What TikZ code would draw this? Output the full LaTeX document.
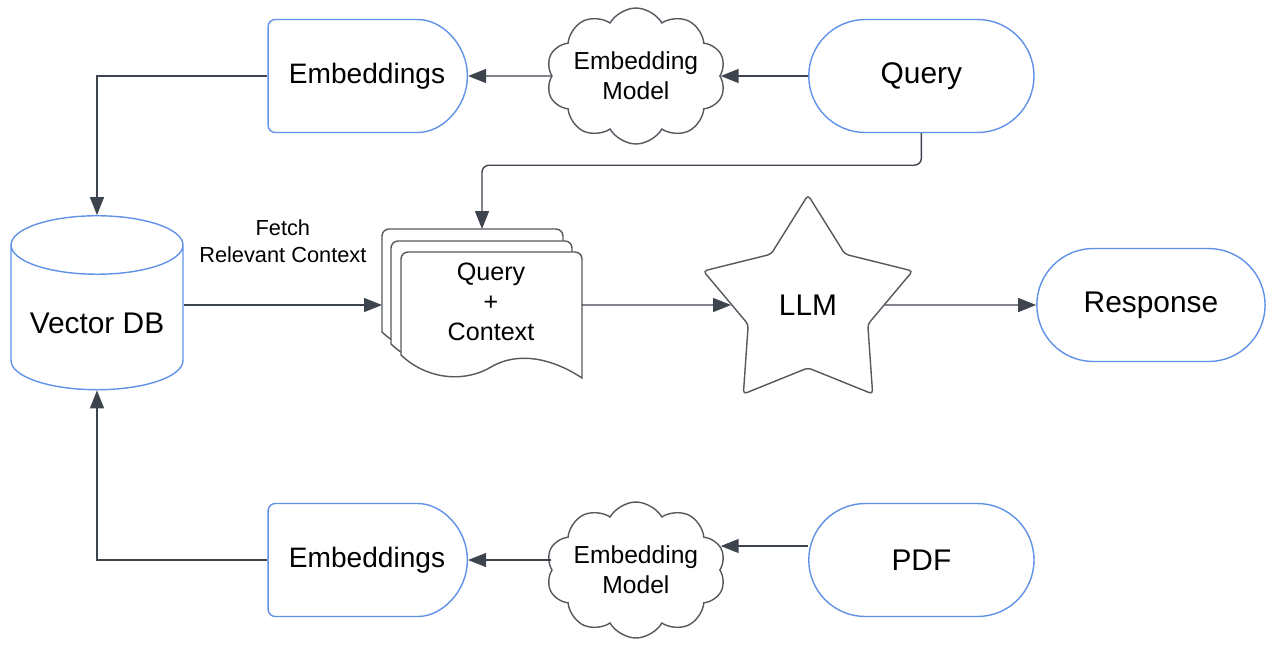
\documentclass[tikz,border=0pt]{standalone}
\usepackage{fontspec}
\setmainfont{Liberation Sans}
\usepackage{tikz}
\usetikzlibrary{shapes.geometric,shapes.misc,shapes.symbols,arrows.meta,positioning}
\definecolor{boxblue}{RGB}{96,146,232}
\definecolor{edgegray}{RGB}{85,88,94}
\definecolor{arrowgray}{RGB}{62,68,78}

\begin{document}
\begin{tikzpicture}[x=0.02cm, y=-0.02cm,
        pill/.style={draw=boxblue, line width=0.8pt, rounded rectangle, minimum width=4.74cm, minimum height=2.26cm, font=\fontsize{17}{20}\selectfont},
        delaybox/.style={draw=boxblue, line width=0.8pt, rounded rectangle, rounded rectangle left arc=none, rounded corners=4pt, minimum width=4.22cm, minimum height=2.26cm, font=\fontsize{16}{19}\selectfont},
        puff/.style={draw=edgegray, line width=0.8pt, cloud, cloud puffs=10, cloud puff arc=120, cloud ignores aspect, inner sep=0pt, minimum width=2.95cm, minimum height=2.72cm, align=center, font=\fontsize{14}{17}\selectfont},
        page/.style={draw=edgegray, line width=0.8pt, fill=white},
        arr/.style={draw=arrowgray, line width=0.8pt, -{Triangle[length=0.36cm,width=0.28cm]}}]
        \useasboundingbox (0,0) rectangle (1270,654);

        % top row
        \node (emb1) [delaybox] at (367,76) {Embeddings};
        \node (cld1) [puff, right of=emb1, node distance=5.38cm] {Embedding\\Model};
        \node (qry) [pill, right of=cld1, node distance=5.71cm] {Query};

        % bottom row
        \node (emb2) [delaybox] at (367,560) {Embeddings};
        \node (cld2) [puff, right of=emb2, node distance=5.38cm, yshift=-0.2cm] {Embedding\\Model};
        \node (pdf) [pill, right of=emb2, node distance=11.09cm] {PDF};

        % middle row
        \node (vdb) [cylinder, shape border rotate=90, aspect=0.4, draw=boxblue, line width=0.8pt, minimum width=3.44cm, minimum height=3.48cm, font=\fontsize{17}{20}\selectfont] at (97,323) {Vector DB};
        \foreach \dx/\dy in {-19/-23, -10/-11, 0/0}
            \draw[page, shift={(\dx,\dy)}] (401,355) [rounded corners=4pt] -- (401,252) -- (582,252) [sharp corners] -- (582,378)
                .. controls (555,360) and (520,350) .. (491,367) .. controls (462,384) and (425,378) .. (401,355) -- cycle;
        \node (ctx) [align=center, minimum width=3.62cm, font=\fontsize{14.3}{17}\selectfont] at (491,302) {Query\\+\\Context};
        \coordinate (stk) at (382,305);
        \coordinate (stktop) at (482,229);
        \node (llm) [star, star points=5, star point ratio=1.75, minimum size=4.4cm, inner sep=0pt, draw=edgegray, line width=0.8pt, rounded corners=2pt, font=\fontsize{17}{20}\selectfont] at (808,305) {LLM};
        \node (rsp) [pill, minimum width=4.8cm, right of=llm, node distance=6.86cm] {Response};

        % connectors
        \draw[arr] (qry.west) -- (cld1.east |- qry.west);
        \draw[arr] (cld1.west) -- (emb1.east);
        \draw[arr] (emb1.west) -| (vdb.north);
        \draw[arr, rounded corners=4pt] (qry.south) -- ++(0,32) -| (stktop);
        \draw[arr] (vdb.east |- stk) -- node[above=0.72cm, align=center, font=\fontsize{12.4}{15.3}\selectfont] {Fetch\\Relevant Context} (stk);
        \draw[arr] (ctx.east |- llm) -- (llm);
        \draw[arr] (llm) -- (rsp);
        \coordinate (pdfin) at ([yshift=0.28cm]pdf.west);
        \draw[arr] (pdfin) -- (pdfin -| cld2.east);
        \draw[arr] (cld2.west |- emb2) -- (emb2.east);
        \draw[arr] (emb2.west) -| (vdb.south);
    \end{tikzpicture}
\end{document}
